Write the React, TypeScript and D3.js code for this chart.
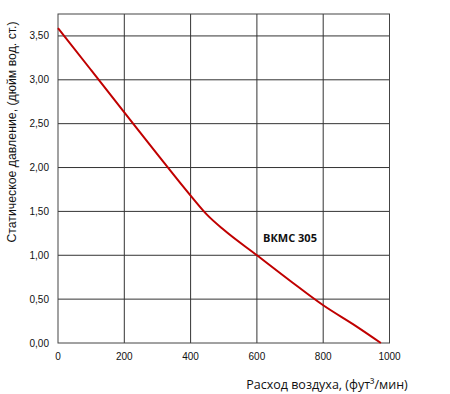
import React from "react";
import * as d3 from "d3";

const flow = [0, 100, 200, 300, 400, 450, 500, 600, 700, 800, 900, 974];
const pressure = [3.59, 3.11, 2.63, 2.15, 1.68, 1.46, 1.29, 1.0, 0.71, 0.43, 0.19, 0.0];
const xTicks = [0, 200, 400, 600, 800, 1000];
const yTicks = [0, 0.5, 1.0, 1.5, 2.0, 2.5, 3.0, 3.5];
const yTitle = "Статическое давление, (дюйм вод. ст.)";
const xTitle = "Расход воздуха, (фут³/мин)";
const seriesLabel = "ВКМС 305";

export default function App() {
  const W = 450, H = 394;
  const left = 58, right = 389.5, top = 14, bottom = 343;
  const x = d3.scaleLinear().domain([0, 1000]).range([left, right]);
  const y = d3.scaleLinear().domain([0, 3.75]).range([bottom, top]);
  const pts = flow.map((f, i) => [f, pressure[i]] as [number, number]);
  const line = d3.line<[number, number]>().x(d => x(d[0])).y(d => y(d[1])).curve(d3.curveMonotoneX);
  const fmt = (v: number) => v.toFixed(2).replace(".", ",");
  return (
    <svg width={W} height={H} style={{ position: "absolute", left: 0, top: 0, background: "#fff" }}>
      <rect x={0} y={0} width={W} height={H} fill="#fff" />
      {xTicks.slice(1, -1).map(t => (
        <line key={"vx" + t} x1={x(t)} x2={x(t)} y1={top} y2={bottom} stroke="#333" strokeWidth={1} />
      ))}
      {yTicks.slice(1).map(t => (
        <line key={"hy" + t} x1={left} x2={right} y1={y(t)} y2={y(t)} stroke="#333" strokeWidth={1} />
      ))}
      <rect x={left} y={top} width={right - left} height={bottom - top} fill="none" stroke="#444" strokeWidth={1} />
      {yTicks.map(t => (
        <text key={"yt" + t} x={49} y={y(t) + 3.5} textAnchor="end" fontFamily="Liberation Sans, Arial, sans-serif" fontSize={10} fill="#111">{fmt(t)}</text>
      ))}
      {xTicks.map(t => (
        <text key={"xt" + t} x={x(t)} y={360} textAnchor="middle" fontFamily="Liberation Sans, Arial, sans-serif" fontSize={10} fill="#111">{t}</text>
      ))}
      <path d={line(pts) || ""} fill="none" stroke="#c00000" strokeWidth={2} />
      <text x={290} y={242} textAnchor="middle" fontFamily="Open Sans, sans-serif" fontWeight="bold" fontSize={11} fill="#111">{seriesLabel}</text>
      <text x={327} y={389} textAnchor="middle" fontFamily="Open Sans, sans-serif" fontSize={12.5} fill="#111">{xTitle}</text>
      <text transform="translate(16,132) rotate(-90)" textAnchor="middle" fontFamily="Liberation Sans, Arial, sans-serif" fontSize={12.3} fill="#111">{yTitle}</text>
    </svg>
  );
}
